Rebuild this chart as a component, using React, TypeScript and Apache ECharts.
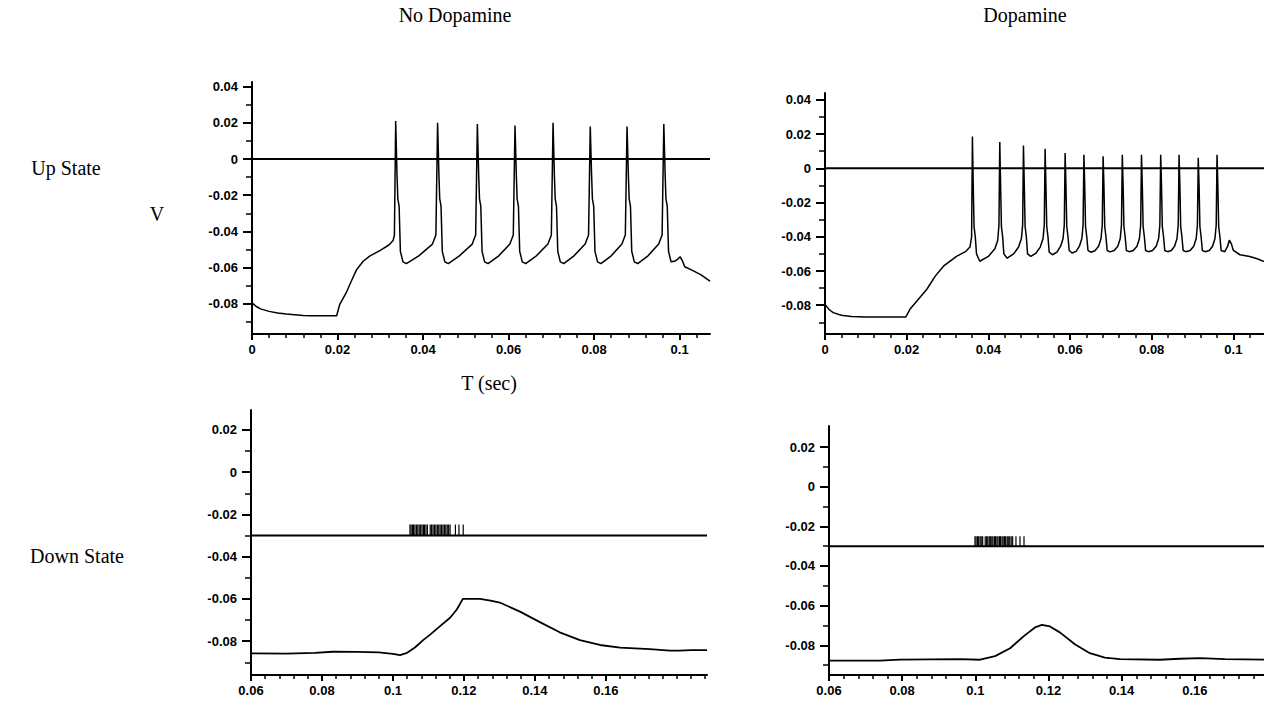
import React, { useEffect, useRef } from "react";
import * as echarts from "echarts";

// ---------- DATA ----------
const upNoDA: [number, number][] = [
  [0, -0.0795], [0.001, -0.0815], [0.002, -0.0828], [0.004, -0.0842], [0.006, -0.0851], [0.008, -0.0857],
  [0.01, -0.0861], [0.012, -0.0865], [0.014, -0.0866], [0.017, -0.0866], [0.0198, -0.0866], [0.0202, -0.083],
  [0.0205, -0.0805], [0.022, -0.074], [0.0235, -0.066], [0.0245, -0.061], [0.026, -0.0565], [0.0276, -0.0535],
  [0.03, -0.0505], [0.032, -0.0475], [0.033, -0.045], [0.0333, -0.042],
  [0.0336, 0.021], [0.0339, -0.008], [0.0341, -0.022], [0.0344, -0.026], [0.0347, -0.051], [0.0353, -0.0568], [0.0361, -0.0578], [0.039, -0.0535], [0.0422, -0.047], [0.043, -0.042],
  [0.0434, 0.02], [0.0437, -0.008], [0.0439, -0.022], [0.0442, -0.026], [0.0445, -0.051], [0.0451, -0.0568], [0.0459, -0.0578], [0.0485, -0.0535], [0.0515, -0.047], [0.0523, -0.042],
  [0.0527, 0.0194], [0.053, -0.008], [0.0532, -0.022], [0.0535, -0.026], [0.0538, -0.051], [0.0544, -0.0568], [0.0552, -0.0578], [0.0577, -0.0535], [0.0603, -0.047], [0.0611, -0.042],
  [0.0615, 0.0185], [0.0618, -0.008], [0.062, -0.022], [0.0623, -0.026], [0.0626, -0.051], [0.0632, -0.0568], [0.064, -0.0578], [0.0665, -0.0535], [0.0692, -0.047], [0.07, -0.042],
  [0.0704, 0.02], [0.0707, -0.008], [0.0709, -0.022], [0.0712, -0.026], [0.0715, -0.051], [0.0721, -0.0568], [0.0729, -0.0578], [0.0753, -0.0535], [0.0779, -0.047], [0.0787, -0.042],
  [0.0791, 0.018], [0.0794, -0.008], [0.0796, -0.022], [0.0799, -0.026], [0.0802, -0.051], [0.0808, -0.0568], [0.0816, -0.0578], [0.084, -0.0535], [0.0865, -0.047], [0.0873, -0.042],
  [0.0877, 0.018], [0.088, -0.008], [0.0882, -0.022], [0.0885, -0.026], [0.0888, -0.051], [0.0894, -0.0568], [0.0902, -0.0578], [0.0926, -0.0535], [0.0951, -0.047], [0.0959, -0.042],
  [0.0963, 0.0194], [0.0966, -0.008], [0.0968, -0.022], [0.0971, -0.026], [0.0974, -0.051], [0.098, -0.0568], [0.0988, -0.0565], [0.0995, -0.0555], [0.1001, -0.054], [0.1006, -0.056],
  [0.1012, -0.0595], [0.103, -0.0615], [0.105, -0.064], [0.1071, -0.0675],
];

const upDA: [number, number][] = [
  [0, -0.0795], [0.001, -0.0825], [0.002, -0.0843], [0.004, -0.0858], [0.0065, -0.0866], [0.01, -0.0868],
  [0.015, -0.0868], [0.0198, -0.0868], [0.0208, -0.0824], [0.0225, -0.0775], [0.0249, -0.0708], [0.027, -0.063],
  [0.029, -0.0572], [0.0322, -0.0514], [0.0345, -0.0485], [0.0355, -0.046], [0.0359, -0.04],
  [0.0361, 0.0186], [0.0363, -0.01], [0.0365, -0.034], [0.0368, -0.04], [0.0371, -0.05], [0.0379, -0.0543], [0.04, -0.0515], [0.0416, -0.047], [0.0423, -0.042], [0.0426, -0.033],
  [0.0428, 0.0153], [0.043, -0.01], [0.0432, -0.034], [0.0435, -0.04], [0.0438, -0.05], [0.0446, -0.0525], [0.0462, -0.05], [0.0474, -0.046], [0.0481, -0.041], [0.0484, -0.033],
  [0.0486, 0.0133], [0.0488, -0.01], [0.049, -0.034], [0.0493, -0.04], [0.0496, -0.05], [0.0504, -0.0515], [0.0517, -0.0495], [0.0527, -0.046], [0.0534, -0.041], [0.0537, -0.033],
  [0.0539, 0.0114], [0.0541, -0.01], [0.0543, -0.034], [0.0546, -0.04], [0.0549, -0.049], [0.0557, -0.0505], [0.0568, -0.049], [0.0577, -0.0455], [0.0583, -0.041], [0.0586, -0.033],
  [0.0588, 0.0089], [0.059, -0.01], [0.0592, -0.034], [0.0595, -0.04], [0.0598, -0.048], [0.0605, -0.0495], [0.0615, -0.0485], [0.0623, -0.0455], [0.0629, -0.041], [0.0632, -0.033],
  [0.0634, 0.0079], [0.0636, -0.01], [0.0638, -0.034], [0.0641, -0.04], [0.0644, -0.048], [0.0651, -0.049], [0.0661, -0.0482], [0.067, -0.0455], [0.0676, -0.041], [0.0679, -0.033],
  [0.0681, 0.007], [0.0683, -0.01], [0.0685, -0.034], [0.0688, -0.04], [0.0691, -0.048], [0.0698, -0.0488], [0.0708, -0.048], [0.0717, -0.0455], [0.0723, -0.041], [0.0726, -0.033],
  [0.0728, 0.0079], [0.073, -0.01], [0.0732, -0.034], [0.0735, -0.04], [0.0738, -0.048], [0.0745, -0.0487], [0.0755, -0.048], [0.0764, -0.0455], [0.077, -0.041], [0.0773, -0.033],
  [0.0775, 0.0079], [0.0777, -0.01], [0.0779, -0.034], [0.0782, -0.04], [0.0785, -0.048], [0.0792, -0.0487], [0.0802, -0.048], [0.0811, -0.0455], [0.0817, -0.041], [0.082, -0.033],
  [0.0822, 0.0079], [0.0824, -0.01], [0.0826, -0.034], [0.0829, -0.04], [0.0832, -0.048], [0.0839, -0.0487], [0.0848, -0.048], [0.0856, -0.0455], [0.0862, -0.041], [0.0865, -0.033],
  [0.0867, 0.0079], [0.0869, -0.01], [0.0871, -0.034], [0.0874, -0.04], [0.0877, -0.048], [0.0884, -0.0487], [0.0894, -0.048], [0.0903, -0.0455], [0.0909, -0.041], [0.0912, -0.033],
  [0.0914, 0.0062], [0.0916, -0.01], [0.0918, -0.034], [0.0921, -0.04], [0.0924, -0.048], [0.0931, -0.0487], [0.0941, -0.048], [0.0949, -0.0455], [0.0955, -0.041], [0.0958, -0.033],
  [0.096, 0.0079], [0.0962, -0.01], [0.0964, -0.034], [0.0967, -0.04], [0.097, -0.048], [0.0979, -0.0487], [0.0986, -0.0455], [0.099, -0.042], [0.0995, -0.044], [0.1, -0.048],
  [0.1016, -0.0505], [0.104, -0.0515], [0.106, -0.053], [0.1075, -0.0545],
];

const downNoDA: [number, number][] = [
  [0.06, -0.0858], [0.07, -0.0859], [0.078, -0.0855], [0.083, -0.085], [0.09, -0.0851], [0.096, -0.0853],
  [0.1, -0.086], [0.102, -0.0866], [0.104, -0.0855], [0.1062, -0.083], [0.1085, -0.0795], [0.1104, -0.077],
  [0.1132, -0.073], [0.1161, -0.0689], [0.118, -0.065], [0.1197, -0.06], [0.1245, -0.06], [0.1275, -0.0608],
  [0.1301, -0.0617], [0.1358, -0.066], [0.1414, -0.071], [0.147, -0.0758], [0.1527, -0.0795], [0.1583, -0.0818],
  [0.164, -0.083], [0.1724, -0.0838], [0.178, -0.0845], [0.1808, -0.0845], [0.184, -0.0842], [0.1885, -0.0842],
];

const downDA: [number, number][] = [
  [0.06, -0.0877], [0.0739, -0.0877], [0.0794, -0.0872], [0.0958, -0.087], [0.1013, -0.0873], [0.1054, -0.0855],
  [0.1095, -0.0815], [0.1135, -0.075], [0.1163, -0.071], [0.1182, -0.0697], [0.1204, -0.0705], [0.1231, -0.0735],
  [0.1272, -0.0795], [0.1313, -0.084], [0.1354, -0.0862], [0.1395, -0.087], [0.1504, -0.0873], [0.1559, -0.0868],
  [0.1614, -0.0865], [0.1682, -0.087], [0.1789, -0.0872],
];

// input spike times (raster)
const rasterNoDA = [
  0.1048, 0.1051, 0.1055, 0.1058, 0.1062, 0.1066, 0.107, 0.1074, 0.1078, 0.1082, 0.1086, 0.1089,
  0.1093, 0.1097, 0.1105, 0.1109, 0.1113, 0.1117, 0.1121, 0.1125, 0.1129, 0.1133, 0.1137,
  0.1141, 0.1145, 0.1149, 0.1153, 0.1157, 0.1161, 0.1176, 0.1186, 0.1198,
];
const rasterDA = [
  0.0999, 0.1002, 0.1006, 0.1009, 0.1013, 0.1016, 0.102, 0.1027, 0.1031, 0.1034, 0.1038, 0.1041,
  0.1045, 0.1048, 0.1052, 0.1055, 0.1059, 0.1062, 0.1066, 0.1069, 0.1073, 0.1076, 0.108, 0.1083,
  0.1087, 0.109, 0.1094, 0.1098, 0.1102, 0.1111, 0.1122, 0.1133,
];
const rasterBase = -0.03;
const rasterTopNoDA = -0.0248;
const rasterTopDA = -0.025;

const upThreshold = 0;
const downThreshold = -0.03;

// axis ranges
const upNoDAX = [0, 0.1071];
const upNoDAY = [-0.0967, 0.0426];
const upDAX = [0, 0.1075];
const upDAY = [-0.0968, 0.044];
const downNoDAX = [0.06, 0.1885];
const downNoDAY = [-0.096, 0.0294];
const downDAX = [0.06, 0.1789];
const downDAY = [-0.095, 0.0306];

// tick values
const upXMajor = [0, 0.02, 0.04, 0.06, 0.08, 0.1];
const upXMinor = [0.004, 0.008, 0.012, 0.016, 0.024, 0.028, 0.032, 0.036, 0.044, 0.048, 0.052, 0.056,
  0.064, 0.068, 0.072, 0.076, 0.084, 0.088, 0.092, 0.096, 0.104];
const upYMajor = [-0.08, -0.06, -0.04, -0.02, 0, 0.02, 0.04];
const upYMinor = [-0.09, -0.07, -0.05, -0.03, -0.01, 0.01, 0.03];
const downXMajor = [0.06, 0.08, 0.1, 0.12, 0.14, 0.16];
const downXMinor = [0.064, 0.068, 0.072, 0.076, 0.084, 0.088, 0.092, 0.096, 0.104, 0.108, 0.112, 0.116,
  0.124, 0.128, 0.132, 0.136, 0.144, 0.148, 0.152, 0.156, 0.164, 0.168, 0.172, 0.176, 0.18, 0.184, 0.188];
const downYMajor = [-0.08, -0.06, -0.04, -0.02, 0, 0.02];
const downYMinor = [-0.09, -0.07, -0.05, -0.03, -0.01, 0.01];

const colTitles = ["No Dopamine", "Dopamine"];
const rowTitles = ["Up State", "Down State"];
const yName = "V";
const xName = "T (sec)";

// ---------- CHART ----------
const fmt = (v: number) => {
  const s = String(Number(Number(v).toFixed(4)));
  return s === "-0" ? "0" : s;
};

const labelFont = {
  fontFamily: "Liberation Sans, Arial, sans-serif",
  fontWeight: "bold" as const,
  fontSize: 13,
  color: "#000",
};

function xAxes(grid: number, range: number[], major: number[], minor: number[]) {
  return [
    {
      type: "value", gridIndex: grid, min: range[0], max: range[1], position: "bottom",
      axisLine: { show: true, onZero: false, lineStyle: { color: "#000", width: 2 } },
      axisTick: { show: true, customValues: major, length: 6, lineStyle: { color: "#000", width: 2 } },
      axisLabel: { show: true, customValues: major, formatter: fmt, margin: 9, ...labelFont },
      splitLine: { show: false },
    },
    {
      type: "value", gridIndex: grid, min: range[0], max: range[1], position: "bottom",
      axisLine: { show: false, onZero: false },
      axisTick: { show: true, customValues: minor, length: 4, lineStyle: { color: "#000", width: 1.5 } },
      axisLabel: { show: false },
      splitLine: { show: false },
    },
  ];
}

function yAxes(grid: number, range: number[], major: number[], minor: number[]) {
  return [
    {
      type: "value", gridIndex: grid, min: range[0], max: range[1], position: "left",
      axisLine: { show: true, onZero: false, lineStyle: { color: "#000", width: 2 } },
      axisTick: { show: true, customValues: major, length: 9, lineStyle: { color: "#000", width: 2 } },
      axisLabel: { show: true, customValues: major, formatter: fmt, margin: 14, ...labelFont },
      splitLine: { show: false },
    },
    {
      type: "value", gridIndex: grid, min: range[0], max: range[1], position: "left",
      axisLine: { show: false, onZero: false },
      axisTick: { show: true, customValues: minor, length: 6, lineStyle: { color: "#000", width: 1.5 } },
      axisLabel: { show: false },
      splitLine: { show: false },
    },
  ];
}

function rasterSeries(grid: number, times: number[], top: number) {
  return {
    type: "custom",
    xAxisIndex: grid * 2,
    yAxisIndex: grid * 2,
    data: times.map((t) => [t, rasterBase, top]),
    renderItem: (_p: any, api: any) => {
      const a = api.coord([api.value(0), api.value(1)]);
      const b = api.coord([api.value(0), api.value(2)]);
      return {
        type: "line",
        shape: { x1: a[0], y1: a[1], x2: b[0], y2: b[1] },
        style: { stroke: "#000", lineWidth: 1.2 },
      };
    },
    silent: true,
  };
}

function traceSeries(grid: number, data: [number, number][], width = 1.5) {
  return {
    type: "line",
    xAxisIndex: grid * 2,
    yAxisIndex: grid * 2,
    data,
    showSymbol: false,
    symbol: "none",
    lineStyle: { color: "#000", width },
    silent: true,
  };
}

function hline(grid: number, xr: number[], v: number) {
  return traceSeries(grid, [[xr[0], v], [xr[1], v]], 2);
}

export default function App() {
  const ref = useRef<HTMLDivElement>(null);
  useEffect(() => {
    if (!ref.current) return;
    const chart = echarts.init(ref.current, undefined, { renderer: "svg" });
    const serif = "Liberation Serif, Times New Roman, serif";
    const txt = (text: string, x: number, y: number) => ({
      type: "text",
      x,
      y,
      style: { text, font: `20px ${serif}`, fill: "#000", align: "center", verticalAlign: "middle" },
    });
    chart.setOption({
      animation: false,
      backgroundColor: "#fff",
      grid: [
        { left: 252, top: 82, width: 458, height: 252 },
        { left: 825, top: 93, width: 439, height: 241 },
        { left: 251, top: 410, width: 456, height: 265 },
        { left: 829, top: 426, width: 435, height: 249 },
      ],
      xAxis: [
        ...xAxes(0, upNoDAX, upXMajor, upXMinor),
        ...xAxes(1, upDAX, upXMajor, upXMinor),
        ...xAxes(2, downNoDAX, downXMajor, downXMinor),
        ...xAxes(3, downDAX, downXMajor, downXMinor),
      ],
      yAxis: [
        ...yAxes(0, upNoDAY, upYMajor, upYMinor),
        ...yAxes(1, upDAY, upYMajor, upYMinor),
        ...yAxes(2, downNoDAY, downYMajor, downYMinor),
        ...yAxes(3, downDAY, downYMajor, downYMinor),
      ],
      series: [
        hline(0, upNoDAX, upThreshold),
        traceSeries(0, upNoDA),
        hline(1, upDAX, upThreshold),
        traceSeries(1, upDA),
        hline(2, downNoDAX, downThreshold),
        traceSeries(2, downNoDA, 1.8),
        rasterSeries(2, rasterNoDA, rasterTopNoDA),
        hline(3, downDAX, downThreshold),
        traceSeries(3, downDA, 1.8),
        rasterSeries(3, rasterDA, rasterTopDA),
      ],
      graphic: [
        txt(colTitles[0], 455, 15),
        txt(colTitles[1], 1025, 15),
        txt(rowTitles[0], 66, 168),
        txt(yName, 157, 214),
        txt(xName, 489, 383),
        txt(rowTitles[1], 77, 556),
      ],
    });
    return () => chart.dispose();
  }, []);
  return (
    <div
      ref={ref}
      style={{ position: "absolute", left: 0, top: 0, width: 1264, height: 707 }}
    />
  );
}
